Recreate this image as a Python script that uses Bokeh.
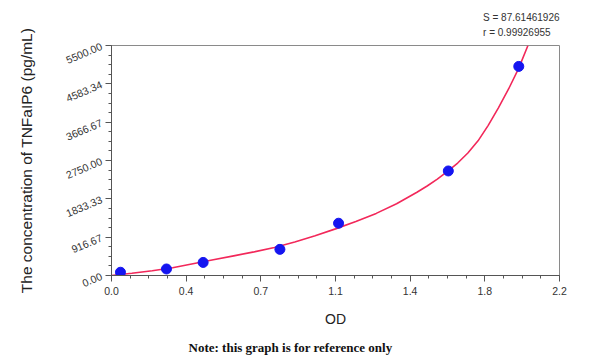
from bokeh.plotting import figure
from bokeh.models import FixedTicker, Title, Range1d
from bokeh.embed import file_html
from bokeh.resources import INLINE

# Standard points (OD, concentration)
od_points = [0.044, 0.27, 0.45, 0.827, 1.115, 1.654, 2.0]
conc_points = [78, 156, 312.5, 625, 1250, 2500, 5000]

# Fitted curve
curve_od = [0.0, 0.1, 0.2, 0.3, 0.4, 0.5, 0.6, 0.7, 0.8, 0.9, 1.0, 1.1, 1.2, 1.3,
            1.4, 1.5, 1.55, 1.6, 1.65, 1.7, 1.75, 1.8, 1.85, 1.9, 1.95, 2.0, 2.045]
curve_conc = [0, 55, 115, 185, 280, 375, 470, 565, 670, 800, 950, 1115, 1290, 1485,
              1715, 1990, 2140, 2305, 2490, 2690, 2930, 3220, 3590, 4010, 4460, 4960, 5500]

x_ticks = [0.0, 0.36667, 0.73333, 1.1, 1.46667, 1.83333, 2.2]
x_tick_labels = ["0.0", "0.4", "0.7", "1.1", "1.4", "1.8", "2.2"]
y_ticks = [0.0, 916.67, 1833.33, 2750.0, 3666.67, 4583.34, 5500.0]
y_tick_labels = ["0.00", "916.67", "1833.33", "2750.00", "3666.67", "4583.34", "5500.00"]

stats_lines = ["S = 87.61461926", "r = 0.99926955"]
note_text = "Note: this graph is for reference only"

W, H = 600, 364
p = figure(width=W, height=H, output_backend="svg", toolbar_location=None,
           x_range=Range1d(0, 2.2), y_range=Range1d(0, 5500),
           min_border_left=111, min_border_right=41, min_border_top=45,
           min_border_bottom=89)
p.grid.visible = False
p.outline_line_color = "#8a8a8a"
p.outline_line_width = 1
p.background_fill_color = "white"
p.border_fill_color = "white"

# axes
p.xaxis.ticker = FixedTicker(ticks=x_ticks,
                             minor_ticks=[i * 2.2 / 24 for i in range(25)])
p.xaxis.major_label_overrides = {t: l for t, l in zip(x_ticks, x_tick_labels)}
p.yaxis.ticker = FixedTicker(ticks=y_ticks,
                             minor_ticks=[i * 5500 / 24 for i in range(25)])
p.yaxis.major_label_overrides = {t: l for t, l in zip(y_ticks, y_tick_labels)}

for ax in (p.xaxis, p.yaxis):
    ax.axis_line_color = "#555555"
    ax.major_tick_line_color = "#555555"
    ax.minor_tick_line_color = "#555555"
    ax.major_tick_in = 0
    ax.major_tick_out = 6
    ax.minor_tick_in = 0
    ax.minor_tick_out = 3
    ax.major_label_text_font = "Liberation Sans"
    ax.major_label_text_font_size = "10.5px"
    ax.major_label_text_color = "#333333"
    ax.axis_label_text_font = "Liberation Sans"
    ax.axis_label_text_font_style = "normal"
    ax.axis_label_text_color = "#222222"

p.xaxis.axis_label_text_font_size = "14px"
p.yaxis.axis_label_text_font_size = "15.5px"
p.yaxis.major_label_orientation = 0.4
p.yaxis.major_label_standoff = 4
p.xaxis.major_label_standoff = 5
p.xaxis.axis_label = "OD"
p.xaxis.axis_label_standoff = 13
p.yaxis.axis_label = "The concentration of TNFaIP6 (pg/mL)"
p.yaxis.axis_label_standoff = 25

# curve and points
p.line(curve_od, curve_conc, line_color="#f2285a", line_width=1.6)
p.scatter(od_points, conc_points, size=10, fill_color="#1515f0",
          line_color="#1515f0")

# stats text top right, one two-line title
p.add_layout(Title(text="\n".join(stats_lines), align="right",
                   text_font="Liberation Sans", text_font_size="10px",
                   text_font_style="normal", text_color="#333333",
                   text_line_height=1.4, standoff=15), "above")

p.add_layout(Title(text=note_text, align="left", offset=77,
                   text_font="Liberation Serif", text_font_size="13px",
                   text_font_style="bold", text_color="#111111",
                   standoff=16), "below")

open("out.html", "w").write(file_html(p, INLINE))
